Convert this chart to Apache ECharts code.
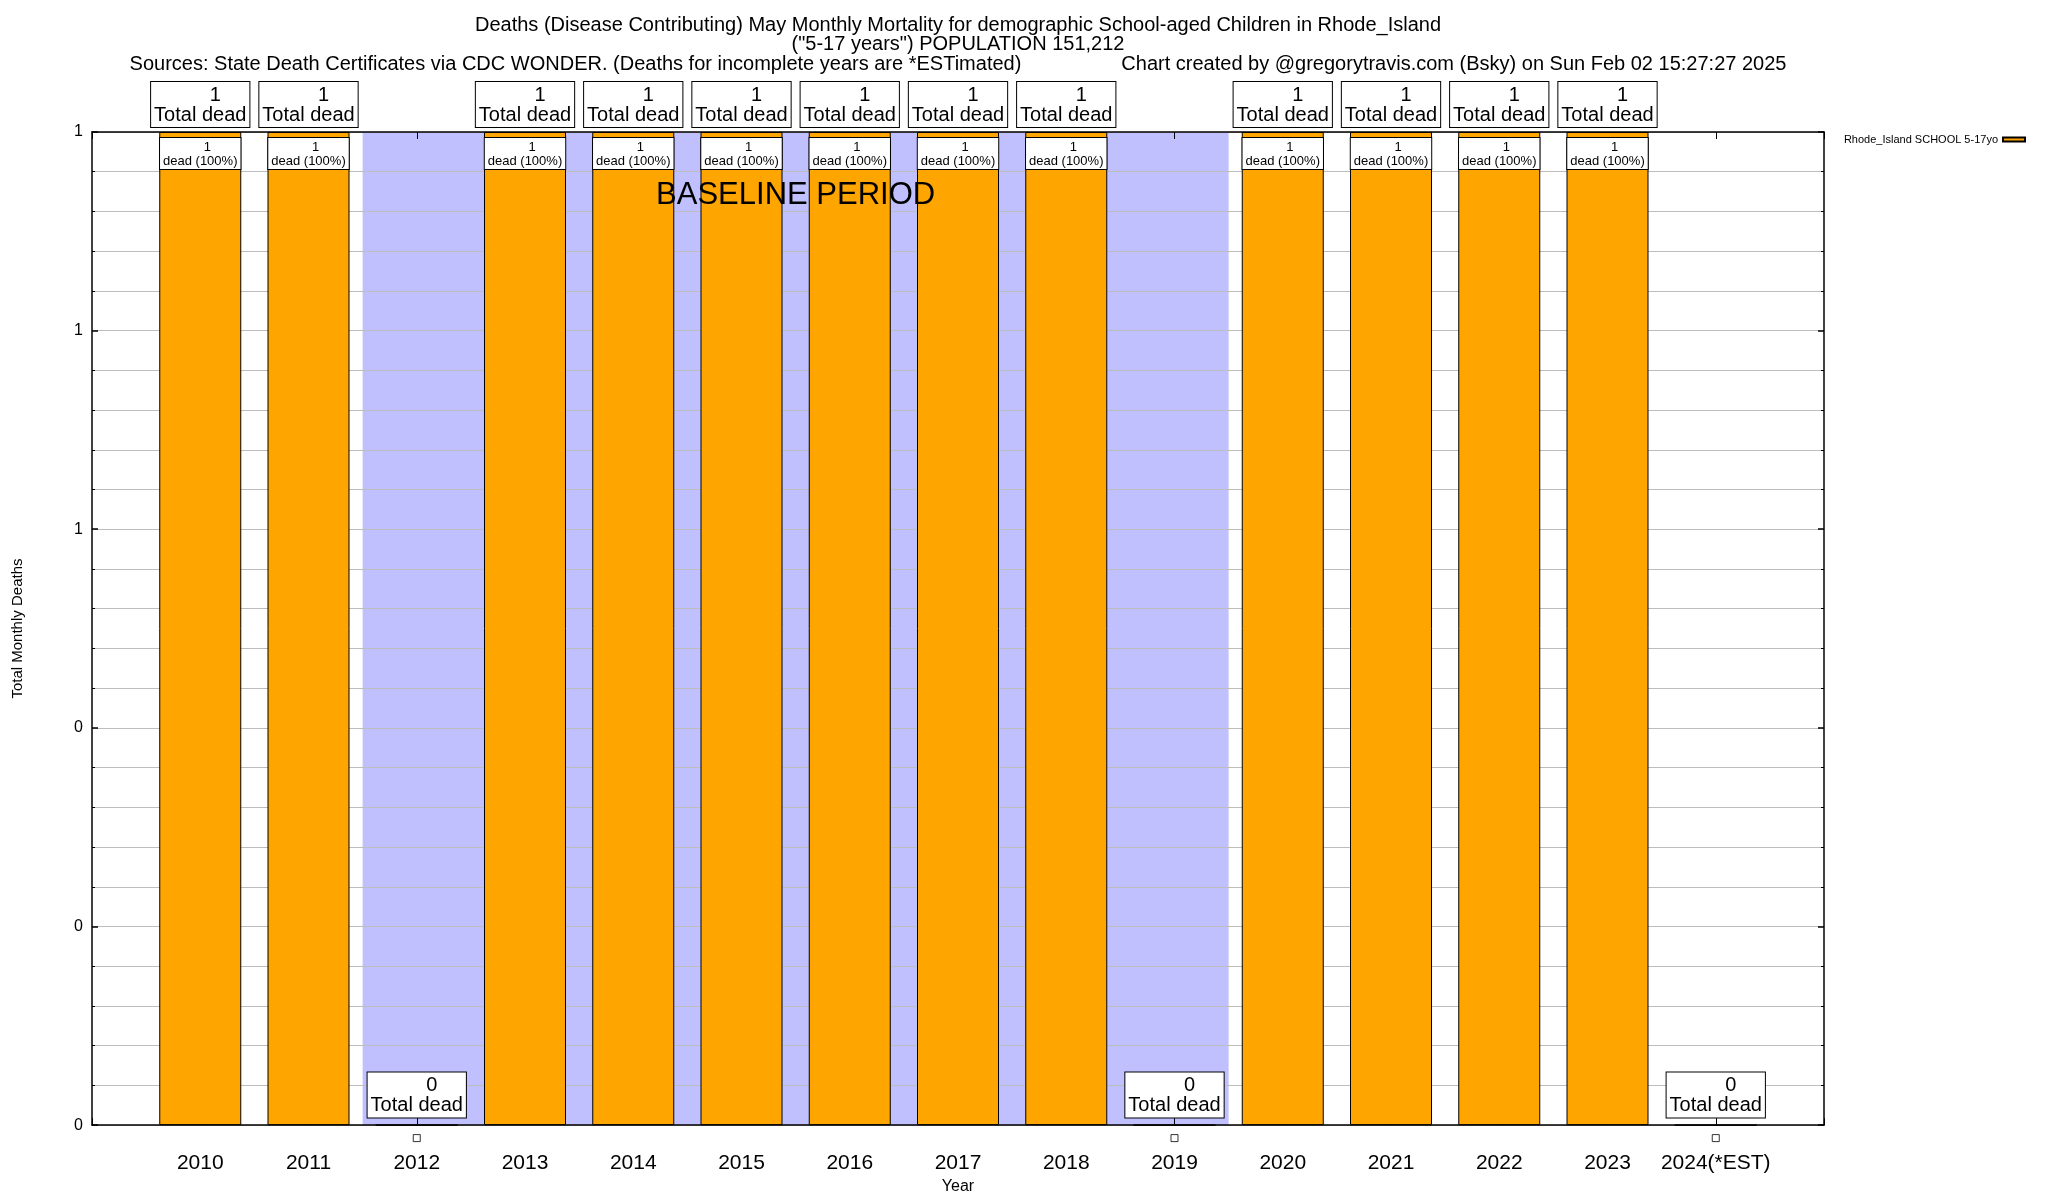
<!DOCTYPE html>
<html>
<head>
<meta charset="utf-8">
<script src="https://cdn.jsdelivr.net/npm/echarts@6/dist/echarts.min.js"></script>
<style>
html,body{margin:0;padding:0;background:#fff;}
#chart{width:2048px;height:1200px;}
</style>
</head>
<body>
<div id="chart"></div>
<script>
// ---- data ----
const years = ['2010','2011','2012','2013','2014','2015','2016','2017','2018','2019','2020','2021','2022','2023','2024(*EST)'];
const deaths = [1,1,0,1,1,1,1,1,1,0,1,1,1,1,0];
const pctDead = [100,100,0,100,100,100,100,100,100,0,100,100,100,100,0];
const yTickValues = [0,0.2,0.4,0.6,0.8,1];
const yTickLabels = ['0','0','0','1','1','1'];
const baselineStart = '2012';
const baselineEnd = '2019';
const seriesName = 'Rhode_Island SCHOOL 5-17yo';
const titleLines = [
  'Deaths (Disease Contributing) May Monthly Mortality for demographic School-aged Children in Rhode_Island',
  '("5-17 years") POPULATION 151,212',
  'Sources: State Death Certificates via CDC WONDER. (Deaths for incomplete years are *ESTimated)                  Chart created by @gregorytravis.com (Bsky) on Sun Feb 02 15:27:27 2025'
];

const FONT = '"Liberation Sans", Arial, Helvetica, sans-serif';
const ORANGE = '#ffa500';
const PURPLE = '#c0c0ff';
const GRID = '#bdbdbd';

const chart = echarts.init(document.getElementById('chart'), null, {renderer: 'canvas'});

const mainData = deaths.map((v, i) => {
  const item = {value: [i, v]};
  if (v === 0) item.label = {distance: 7};
  return item;
});
const innerData = deaths.map((v, i) => {
  const item = {value: [i, v, pctDead[i]]};
  if (v === 0) item.label = {show: false};
  return item;
});
const zeroData = deaths.map((v, i) => [i, v]).filter(d => d[1] === 0);

const bStart = years.indexOf(baselineStart);
const bEnd = years.indexOf(baselineEnd);

const commonX = {
  type: 'value', min: -1, max: 15, interval: 1,
  z: 3,
  axisLine: {show: true, onZero: false, lineStyle: {color: '#000', width: 1.5}},
  axisTick: {show: true, inside: true, length: 7, lineStyle: {color: '#000', width: 1}},
  splitLine: {show: false}
};
const commonY = {
  type: 'value', min: 0, max: 1, interval: 0.2,
  z: 3,
  axisLine: {show: true, onZero: false, lineStyle: {color: '#000', width: 1.5}},
  axisTick: {show: true, inside: true, length: 6, lineStyle: {color: '#000', width: 1.5}},
  minorTick: {show: true, splitNumber: 5, length: 3, lineStyle: {color: '#000', width: 1}}
};

const option = {
  animation: false,
  backgroundColor: '#fff',
  textStyle: {fontFamily: FONT},
  grid: {left: 92, right: 224, top: 132, bottom: 68, containLabel: false},
  legend: {
    show: true, right: 17, top: 129, orient: 'vertical', align: 'right',
    itemWidth: 22, itemHeight: 4, icon: 'rect',
    data: [seriesName],
    textStyle: {fontSize: 11, fontFamily: FONT, color: '#000'}
  },
  graphic: titleLines.map((t, i) => ({
    type: 'text', x: 958, y: [25, 44, 64][i], z: 20,
    style: {text: t, fontSize: 20, fontFamily: FONT, fill: '#000',
      textAlign: 'center', textVerticalAlign: 'middle', align: 'center', verticalAlign: 'middle'}
  })),
  xAxis: [
    Object.assign({}, commonX, {
      position: 'bottom',
      name: 'Year', nameLocation: 'middle', nameGap: 49,
      nameTextStyle: {fontSize: 16, fontFamily: FONT, color: '#000'},
      axisLabel: {
        show: true, margin: 28, fontSize: 21, fontFamily: FONT, color: '#000',
        formatter: v => (v >= 0 && v < years.length) ? years[v] : ''
      }
    }),
    Object.assign({}, commonX, {position: 'top', axisLabel: {show: false}})
  ],
  yAxis: [
    Object.assign({}, commonY, {
      position: 'left',
      name: 'Total Monthly Deaths', nameLocation: 'middle', nameGap: 67, nameRotate: 90,
      nameTextStyle: {fontSize: 15, fontFamily: FONT, color: '#000'},
      axisLabel: {
        show: true, margin: 9, fontSize: 16, fontFamily: FONT, color: '#000',
        formatter: v => {
          const k = yTickValues.findIndex(t => Math.abs(t - v) < 1e-9);
          return k >= 0 ? yTickLabels[k] : '';
        }
      },
      splitLine: {show: true, lineStyle: {color: GRID, width: 1}},
      minorSplitLine: {show: true, lineStyle: {color: GRID, width: 1}}
    }),
    Object.assign({}, commonY, {
      position: 'right', axisLabel: {show: false},
      splitLine: {show: false}, minorSplitLine: {show: false}
    })
  ],
  series: [
    {
      type: 'custom', name: 'baselineBand', z: 1, silent: true,
      xAxisIndex: 0, yAxisIndex: 0,
      data: [[bStart, bEnd]],
      renderItem: (params, api) => {
        const p0 = api.coord([api.value(0) - 0.5, 1]);
        const p1 = api.coord([api.value(1) + 0.5, 0]);
        return {type: 'rect', shape: {x: p0[0], y: p0[1], width: p1[0] - p0[0], height: p1[1] - p0[1]},
          style: {fill: PURPLE}};
      }
    },
    {
      type: 'bar', name: seriesName, z: 5,
      xAxisIndex: 0, yAxisIndex: 0,
      barWidth: 82, barGap: '-100%',
      data: mainData,
      itemStyle: {color: ORANGE, borderColor: '#000', borderWidth: 1},
      label: {
        show: true, position: 'top', distance: 5,
        backgroundColor: '#fff', borderColor: '#000', borderWidth: 1,
        padding: [3, 3, 2, 3], color: '#000',
        formatter: p => '{n|' + p.value[1] + '}\n{t|Total dead}',
        rich: {
          n: {fontSize: 20, lineHeight: 20, fontFamily: FONT, color: '#000', padding: [0, 0, 0, 30]},
          t: {fontSize: 20, lineHeight: 20, fontFamily: FONT, color: '#000'}
        }
      }
    },
    {
      type: 'bar', name: 'inner', z: 6,
      xAxisIndex: 0, yAxisIndex: 0,
      barWidth: 82, barGap: '-100%',
      data: innerData,
      itemStyle: {color: 'rgba(0,0,0,0)', borderWidth: 0},
      label: {
        show: true, position: 'insideTop', distance: 6,
        backgroundColor: '#fff', borderColor: '#000', borderWidth: 1,
        padding: [2, 3, 1, 3], color: '#000',
        formatter: p => '{n|' + p.value[1] + '}\n{t|dead (' + p.value[2] + '%)}',
        rich: {
          n: {fontSize: 13, lineHeight: 14, fontFamily: FONT, color: '#000', padding: [0, 0, 0, 14]},
          t: {fontSize: 13, lineHeight: 14, fontFamily: FONT, color: '#000'}
        }
      }
    },
    {
      type: 'scatter', name: 'zeroMark', z: 6, clip: false, silent: true,
      xAxisIndex: 0, yAxisIndex: 0,
      data: zeroData,
      symbol: 'rect', symbolSize: 7, symbolOffset: [0, 13],
      itemStyle: {color: '#fff', borderColor: '#000', borderWidth: 1}
    },
    {
      type: 'custom', name: 'baselineText', z: 10, silent: true,
      xAxisIndex: 0, yAxisIndex: 0,
      data: [[bStart, bEnd]],
      renderItem: (params, api) => {
        const mid = (api.value(0) + api.value(1)) / 2;
        const top = api.coord([mid, 1]);
        return {type: 'text', x: top[0], y: top[1] + 63,
          style: {text: 'BASELINE PERIOD', fontSize: 31, fontFamily: FONT, fill: '#000',
            align: 'center', verticalAlign: 'middle'}};
      }
    }
  ]
};
chart.setOption(option);
</script>
</body>
</html>
